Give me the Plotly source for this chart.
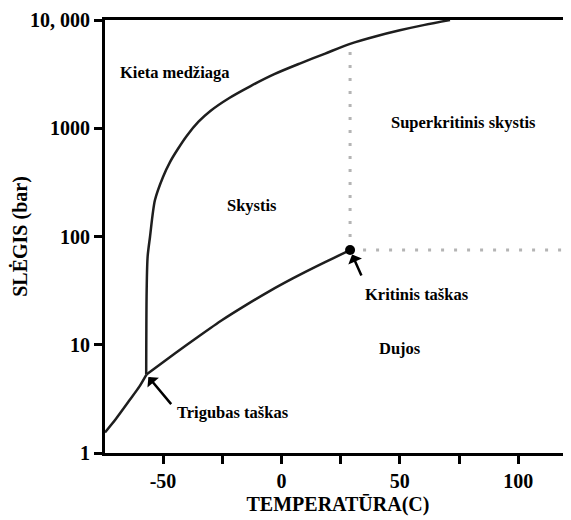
import numpy as np
import plotly.graph_objects as go

# --- data ---
subl_T = [-74.5, -70.0, -64.0, -60.0, -57.0]
subl_P = [1.55, 2.05, 3.1, 4.1, 5.3]

vap_T = [-57.0, -45.0, -35.0, -25.0, -15.0, -5.0, 5.0, 15.0, 22.0, 29.0]
vap_P = [5.3, 8.3, 11.9, 16.9, 23.2, 31.3, 41.2, 53.3, 63.2, 75.0]

melt_T = [-57.1, -56.9, -56.5, -55.5, -53.4, -50.0, -47.0, -44.0, -40.0, -35.0, -30.0,
          -22.0, -13.0, -3.0, 8.0, 18.5, 29.0, 40.0, 50.0, 60.5, 71.2]
melt_P = [5.3, 32.0, 65.0, 99.0, 217.0, 355.0, 490.0, 630.0, 850.0, 1150.0, 1445.0,
          1905.0, 2455.0, 3160.0, 3980.0, 4900.0, 6025.0, 7080.0, 8035.0, 9015.0, 10000.0]

crit_T, crit_P = 29.0, 75.0
crit_top_P = 5800.0
x_max = 122.3

x_tickvals = [-75, -50, -25, 0, 25, 50, 75, 100]
x_ticktext = ["", "-50", "", "0", "", "50", "", "100"]
y_tickvals = [1, 10, 100, 1000, 10000]
y_ticktext = ["1", "10", "100", "1000", "10, 000"]

label_texts = ["Kieta medžiaga", "Superkritinis skystis", "Skystis", "Kritinis taškas", "Dujos", "Trigubas taškas"]
label_T = [-45.0, 76.7, -12.4, 57.3, 50.0, -20.4]
label_P = [3300.0, 1120.0, 195.0, 29.0, 9.3, 2.35]

FONT = "Liberation Serif"
line_col = "#1e1e1e"

fig = go.Figure()
fig.add_trace(go.Scatter(x=subl_T, y=subl_P, mode="lines",
                         line=dict(color=line_col, width=2.5, shape="spline", smoothing=0.6)))
fig.add_trace(go.Scatter(x=vap_T, y=vap_P, mode="lines",
                         line=dict(color=line_col, width=2.5, shape="spline", smoothing=0.6)))
fig.add_trace(go.Scatter(x=melt_T, y=melt_P, mode="lines",
                         line=dict(color=line_col, width=2.5, shape="spline", smoothing=0.8)))
# dotted boundaries of supercritical region
fig.add_trace(go.Scatter(x=[crit_T, crit_T], y=[crit_P, crit_top_P], mode="lines",
                         line=dict(color="#b4b4b4", width=3, dash="3px,10px")))
fig.add_trace(go.Scatter(x=[crit_T, x_max], y=[crit_P, crit_P], mode="lines",
                         line=dict(color="#b4b4b4", width=3, dash="3px,10px")))
fig.add_trace(go.Scatter(x=[crit_T], y=[crit_P], mode="markers",
                         marker=dict(color="black", size=10)))

annotations = []
for t, xv, pv in zip(label_texts, label_T, label_P):
    annotations.append(dict(x=xv, y=np.log10(pv), xref="x", yref="y", text=t, showarrow=False,
                            font=dict(family=FONT, size=16.5, color="black", weight="bold")))
# arrows
annotations.append(dict(x=-57.0, y=np.log10(5.3), xref="x", yref="y", text="", showarrow=True,
                        ax=26, ay=31, arrowhead=1, arrowsize=1, arrowwidth=2.5, arrowcolor="black", standoff=3))
annotations.append(dict(x=crit_T, y=np.log10(crit_P), xref="x", yref="y", text="", showarrow=True,
                        ax=12, ay=27, arrowhead=1, arrowsize=1, arrowwidth=2.5, arrowcolor="black", standoff=5))

# page body has an 8px margin: size the figure so that it fits the 571x520 window
fig.update_layout(
    width=563, height=512,
    margin=dict(l=97, r=0, t=12, b=67),
    paper_bgcolor="white", plot_bgcolor="white",
    showlegend=False,
    annotations=annotations,
    font=dict(family=FONT, color="black"),
)
fig.update_xaxes(
    range=[-74.5, x_max], tickvals=x_tickvals, ticktext=x_ticktext, automargin=False,
    showgrid=False, zeroline=False, showline=True, linecolor="black", linewidth=3, mirror=True,
    ticks="outside", ticklen=8, tickwidth=3, tickcolor="black",
    tickfont=dict(family=FONT, size=20, color="black", weight="bold"),
    title=dict(text="TEMPERATŪRA(C)", font=dict(family=FONT, size=20, color="black", weight="bold"), standoff=6),
)
fig.update_yaxes(
    type="log", range=[0, 4], tickvals=y_tickvals, ticktext=y_ticktext, automargin=False,
    showgrid=False, zeroline=False, showline=True, linecolor="black", linewidth=3,
    ticks="outside", ticklen=8, tickwidth=3, tickcolor="black",
    tickfont=dict(family=FONT, size=20, color="black", weight="bold"),
    title=dict(text="SLĖGIS (bar)", font=dict(family=FONT, size=20, color="black", weight="bold"), standoff=12),
)

fig.write_html("out.html")
